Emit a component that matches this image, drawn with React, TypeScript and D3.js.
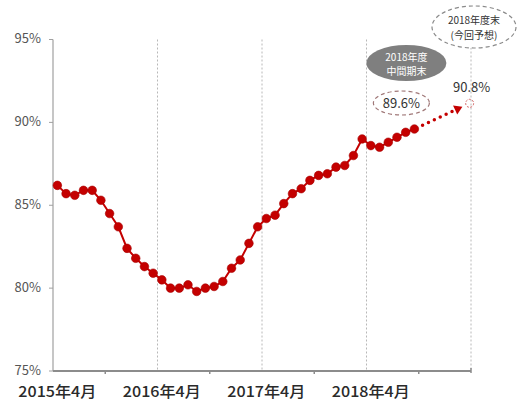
import React from "react";
import * as d3 from "d3";

// ---- data ----
const startYear = 2015;
const monthCount = 48; // 2015年4月 .. 2019年3月
const categories: string[] = Array.from({ length: monthCount }, (_, i) => {
  const m = ((3 + i) % 12) + 1;
  const y = startYear + Math.floor((3 + i) / 12);
  return `${y}年${m}月`;
});
const values: number[] = [
  86.2, 85.7, 85.6, 85.9, 85.9, 85.3, 84.5, 83.7, 82.4, 81.8, 81.3, 80.9,
  80.5, 80.0, 80.0, 80.2, 79.8, 80.0, 80.1, 80.4, 81.2, 81.7, 82.7, 83.7,
  84.2, 84.4, 85.1, 85.7, 86.0, 86.5, 86.8, 86.9, 87.3, 87.4, 88.0, 89.0,
  88.6, 88.5, 88.8, 89.1, 89.4, 89.6,
];
const yTicks: number[] = [75, 80, 85, 90, 95];
const xLabelCats: string[] = ["2015年4月", "2016年4月", "2017年4月", "2018年4月"];
const gridCats: string[] = ["2016年4月", "2017年4月", "2018年4月"];
const minorTickCats: string[] = ["2015年10月", "2016年10月", "2017年10月", "2018年10月"];
const forecastCat = "2019年3月";
const forecastValue = 90.8; // label value
const forecastMarkerValue = 91.15; // where the annotation marker is drawn
const lastLabel = "89.6%";
const forecastLabel = "90.8%";
const midBubble: string[] = ["2018年度", "中間期末"];
const endBubble: string[] = ["2018年度末", "(今回予想)"];

const W = 518;
const H = 402;
const left = 53;
const right = 471;
const top = 39.5;
const bottom = 371;
const red = "#c40000";
const font = "'Noto Sans CJK JP', 'Noto Sans', sans-serif";

export default function App() {
  const x = d3.scaleBand<string>().domain(categories).range([left, right]).padding(0);
  const cx = (c: string) => (x(c) as number) + x.bandwidth() / 2;
  const y = d3.scaleLinear().domain([75, 95]).range([bottom, top]);

  const pts = values.map((v, i) => [cx(categories[i]), y(v)] as [number, number]);
  const line = d3.line<[number, number]>().x((d) => d[0]).y((d) => d[1])(pts) || "";

  const last = pts[pts.length - 1];
  const fx = cx(forecastCat) + 3;
  const fy = y(forecastMarkerValue);
  const dx = fx - last[0];
  const dy = fy - last[1];
  const len = Math.hypot(dx, dy);
  const ux = dx / len;
  const uy = dy / len;
  const a0: [number, number] = [last[0] + ux * 9, last[1] + uy * 9];
  const a1: [number, number] = [fx - ux * 14, fy - uy * 14];
  const tip: [number, number] = [fx - ux * 8, fy - uy * 8];
  const px = -uy;
  const py = ux;
  const head = `M${tip[0]},${tip[1]} L${a1[0] - ux * 2 + px * 5},${a1[1] - uy * 2 + py * 5} L${a1[0] - ux * 2 - px * 5},${a1[1] - uy * 2 - py * 5} Z`;

  const bx = x.bandwidth();

  return (
    <svg width={W} height={H} style={{ position: "absolute", left: 0, top: 0, background: "#fff" }}>
      <rect x={0} y={0} width={W} height={H} fill="#fff" />
      {/* vertical dotted gridlines */}
      {gridCats.map((c) => (
        <line key={c} x1={x(c) as number} x2={x(c) as number} y1={top} y2={bottom} stroke="#b8b8b8" strokeWidth={1} strokeDasharray="2 2" />
      ))}
      <line x1={right} x2={right} y1={top} y2={bottom} stroke="#b8b8b8" strokeWidth={1} strokeDasharray="2 2" />
      {/* y axis */}
      <line x1={left} x2={left} y1={top} y2={bottom} stroke="#a0a0a0" strokeWidth={1.2} />
      {yTicks.map((t) => (
        <g key={t}>
          <line x1={left - 4} x2={left} y1={y(t)} y2={y(t)} stroke="#a0a0a0" strokeWidth={1} />
          <text x={left - 12} y={y(t) - 1} dy="0.35em" textAnchor="end" fontSize={13} fontFamily={font} fill="#555">
            {t}%
          </text>
        </g>
      ))}
      {/* x axis */}
      <line x1={left} x2={right} y1={bottom} y2={bottom} stroke="#8c8c8c" strokeWidth={2} />
      {minorTickCats.map((c) => (
        <line key={c} x1={x(c) as number} x2={x(c) as number} y1={bottom} y2={bottom + 3} stroke="#8c8c8c" strokeWidth={1.5} />
      ))}
      <line x1={right} x2={right} y1={bottom - 3} y2={bottom + 2} stroke="#8c8c8c" strokeWidth={1.5} />
      {xLabelCats.map((c) => (
        <text key={c} x={(x(c) as number) + bx / 2} y={bottom + 26} textAnchor="middle" fontSize={15} fontWeight={500} fontFamily={font} fill="#2a2a2a" textLength={78} lengthAdjust="spacingAndGlyphs">
          {c}
        </text>
      ))}
      {/* series */}
      <path d={line} fill="none" stroke={red} strokeWidth={2} />
      {pts.map((p, i) => (
        <circle key={i} cx={p[0]} cy={p[1]} r={4.3} fill={red} stroke="#a80000" strokeWidth={0.6} />
      ))}
      {/* forecast arrow */}
      <line x1={a0[0]} y1={a0[1]} x2={a1[0]} y2={a1[1]} stroke={red} strokeWidth={3.5} strokeLinecap="round" strokeDasharray="0 6.5" />
      <path d={head} fill={red} />
      <circle cx={fx} cy={fy} r={4} fill="none" stroke="#d06060" strokeWidth={1} strokeDasharray="2 1.5" />
      {/* labels */}
      <ellipse cx={last[0] - 13} cy={last[1] - 26} rx={28} ry={12} fill="none" stroke="#a07878" strokeWidth={1.2} strokeDasharray="4 3" />
      <text x={last[0] - 13} y={last[1] - 26} dy="0.36em" textAnchor="middle" fontSize={13} fontFamily={font} fill="#333">
        {lastLabel}
      </text>
      <ellipse cx={last[0] - 8} cy={63} rx={40} ry={18} fill="#7f7f7f" />
      {midBubble.map((t, i) => (
        <text key={t} x={last[0] - 8} y={57 + i * 14} dy="0.35em" textAnchor="middle" fontSize={10} fontFamily={font} fill="#fff">
          {t}
        </text>
      ))}
      <text x={fx + 2} y={y(forecastValue) - 22} dy="0.35em" textAnchor="middle" fontSize={13} fontFamily={font} fill="#333">
        {forecastLabel}
      </text>
      <ellipse cx={474} cy={27} rx={42} ry={21} fill="#fff" stroke="#8a8a8a" strokeWidth={1.2} strokeDasharray="4 3" />
      {endBubble.map((t, i) => (
        <text key={t} x={474} y={20 + i * 15} dy="0.35em" textAnchor="middle" fontSize={10} fontFamily={font} fill="#333">
          {t}
        </text>
      ))}
    </svg>
  );
}
